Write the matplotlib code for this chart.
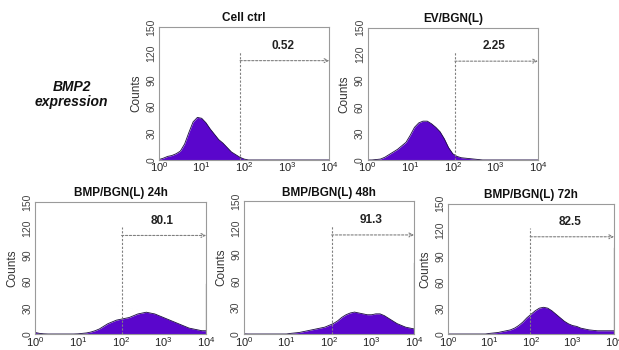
import numpy as np
import matplotlib
matplotlib.use("Agg")
import matplotlib.pyplot as plt

plt.rcParams['font.family'] = ['Liberation Sans', 'DejaVu Sans']
plt.rcParams['mathtext.fontset'] = 'custom'
plt.rcParams['mathtext.rm'] = 'Liberation Sans'
plt.rcParams['mathtext.it'] = 'Liberation Sans:italic'

# counts read at log10 channel positions 0.0, 0.1, ... 4.0
log_pos = np.round(np.arange(0, 4.01, 0.1), 1)

titles = ['Cell ctrl', 'EV/BGN(L)', 'BMP/BGN(L) 24h', 'BMP/BGN(L) 48h', 'BMP/BGN(L) 72h']
gate_pct = ['0.52', '2.25', '80.1', '91.3', '82.5']
gate_x = [80, 112, 105, 115, 95]
spike = [0, 0, 57, 80, 99]  # pile-up in the last channel

cell_ctrl = [0.5, 2, 4, 5, 7, 10, 18, 31, 43, 48, 47, 42, 35, 29, 23, 19, 14, 9, 6, 3,
             1, 0, 0, 0, 0, 0, 0, 0, 0, 0, 0, 0, 0, 0, 0, 0, 0, 0, 0, 0, 0]
ev_bgn = [0, 0, 0.5, 1, 3, 6, 9, 12, 16, 20, 28, 37, 42, 44, 44, 41, 37, 32, 24, 14,
          7, 4, 2.5, 2, 1.5, 1, 0.5, 0, 0, 0, 0, 0, 0, 0, 0, 0, 0, 0, 0, 0, 0]
bmp_24h = [2, 1, 0.5, 0.3, 0.3, 0.3, 0.3, 0.3, 0.3, 0.3, 0.5, 1, 1.5, 2.5, 4, 6, 9, 12, 14, 16,
           17, 18, 19, 21, 23, 24, 25, 24, 23, 21, 19, 17, 15, 13, 11, 9, 7, 6, 5, 4, 4]
bmp_48h = [0.5, 0.3, 0.3, 0.3, 0.3, 0.3, 0.3, 0.3, 0.3, 0.3, 0.3, 1, 1.5, 2, 3, 4, 5, 6, 7, 8,
           10, 12, 15, 19, 22, 24, 25, 24, 23, 22, 22, 23, 23, 21, 18, 15, 12, 10, 8, 7, 6]
bmp_72h = [0.3, 0.3, 0.3, 0.3, 0.3, 0.3, 0.3, 0.3, 0.3, 0.3, 1, 1.5, 2, 3, 4, 5, 7, 10, 14, 19,
           23, 27, 30, 31, 30, 27, 23, 19, 15, 12, 10, 9, 7, 6, 5, 4.5, 4, 4, 4, 4, 4]
series = [cell_ctrl, ev_bgn, bmp_24h, bmp_48h, bmp_72h]

# axes boxes [left, bottom, width, height] in figure fraction
boxes = [[0.257, 0.543, 0.275, 0.38],
         [0.594, 0.543, 0.275, 0.378],
         [0.057, 0.045, 0.276, 0.378],
         [0.394, 0.045, 0.275, 0.38],
         [0.724, 0.045, 0.268, 0.373]]

fill_col = '#5a06cc'
frame_col = '#9a9a9a'

fig = plt.figure(figsize=(6.19, 3.5), dpi=100)

for i in range(5):
    ax = fig.add_axes(boxes[i])
    x = 10 ** log_pos
    y = np.array(series[i])
    ax.fill_between(x, 0, y, color=fill_col, lw=0)
    ax.plot(x, y, color='#1a0a40', lw=0.6)
    if spike[i]:
        ax.plot([10 ** 3.99, 10 ** 3.99], [0, spike[i]], color='#777777', lw=0.9)
    # gate
    g = gate_x[i]
    ax.plot([g, g], [0, 122], ls=(0, (2, 1.5)), color='#808080', lw=0.8)
    ax.annotate('', xy=(1e4, 112), xytext=(g, 112),
                arrowprops=dict(arrowstyle='->', ls=(0, (2, 1.5)), color='#808080', lw=0.8,
                                shrinkA=0, shrinkB=0, mutation_scale=7))
    ax.text(10 ** ((np.log10(g) + 4) / 2 - 0.05), 122, gate_pct[i], ha='center', va='bottom',
            fontsize=8.5, fontweight='bold', color='#222222')

    ax.set_xscale('log')
    ax.set_xlim(1, 1e4)
    ax.set_ylim(0, 150)
    ax.set_xticks([1, 10, 100, 1000, 10000])
    ax.set_xticklabels([r'$10^{0}$', r'$10^{1}$', r'$10^{2}$', r'$10^{3}$', r'$10^{4}$'])
    ax.minorticks_off()
    ax.set_yticks([0, 30, 60, 90, 120, 150])
    ax.tick_params(axis='x', length=0, pad=0.5, labelsize=8, labelcolor='#222222')
    ax.tick_params(axis='y', length=0, pad=2, labelsize=7.5, labelcolor='#444444')
    for lab in ax.get_yticklabels():
        lab.set_rotation(90)
        lab.set_va('center')
    ax.set_ylabel('Counts', fontsize=8.5, color='#333333', labelpad=3)
    ax.set_title(titles[i], fontsize=8.5, fontweight='bold', pad=4, color='#111111')
    for s in ax.spines.values():
        s.set_color(frame_col)
        s.set_linewidth(0.8)

fig.text(0.116, 0.73, 'BMP2\nexpression', ha='center', va='center', fontsize=10,
         fontweight='bold', fontstyle='italic', color='#111111', linespacing=1.1)

fig.savefig('out.png', dpi=100)
